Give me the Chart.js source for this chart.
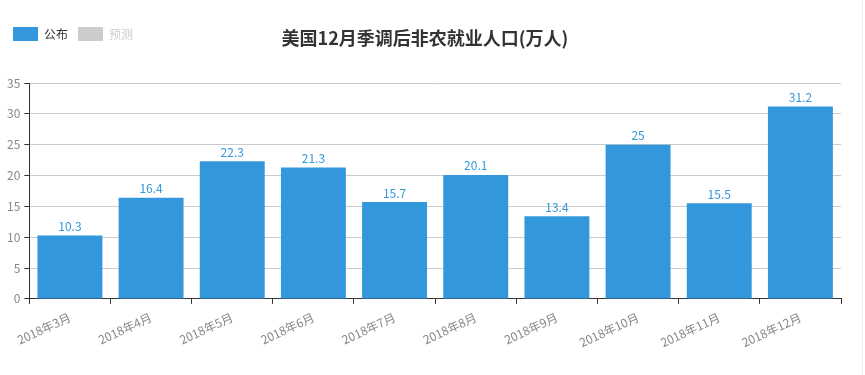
<!DOCTYPE html>
<html>
<head>
<meta charset="utf-8">
<script src="https://cdn.jsdelivr.net/npm/chart.js@4.4.0/dist/chart.umd.min.js"></script>
<style>
  html, body { margin: 0; padding: 0; background: #fff; }
  #wrap { position: relative; width: 865px; height: 375px; }
  #title {
    position: absolute; left: 0; top: 24px; width: 850px; text-align: center;
    font-family: "Noto Sans CJK SC", sans-serif; font-weight: bold; font-size: 18px; color: #333;
  }
  #edge { position: absolute; left: 862px; top: 0; width: 1px; height: 375px; background: #f0f0f0; }
</style>
</head>
<body>
<div id="wrap">
  <canvas id="myChart" width="865" height="375"></canvas>
  <div id="title">美国12月季调后非农就业人口(万人)</div>
  <div id="edge"></div>
</div>
<script>
const categories = ['2018年3月','2018年4月','2018年5月','2018年6月','2018年7月','2018年8月','2018年9月','2018年10月','2018年11月','2018年12月'];
const published = [10.3, 16.4, 22.3, 21.3, 15.7, 20.1, 13.4, 25, 15.5, 31.2];
const forecast = [];
const seriesNames = ['公布', '预测'];
const yTicks = [0, 5, 10, 15, 20, 25, 30, 35];

const font = "'Noto Sans CJK SC', sans-serif";
const blue = '#3398DB';
const gray = '#ccc';

// value labels above the bars
const barLabels = {
    id: 'barLabels',
    afterDatasetsDraw(chart) {
        const ctx = chart.ctx;
        const meta = chart.getDatasetMeta(0);
        ctx.save();
        ctx.font = '12px ' + font;
        ctx.fillStyle = blue;
        ctx.textAlign = 'center';
        ctx.textBaseline = 'bottom';
        meta.data.forEach((bar, i) => {
            ctx.fillText(String(published[i]), bar.x, bar.y - 3);
        });
        ctx.restore();
    }
};

// extra room under the legend
const legendGap = {
    id: 'legendGap',
    beforeInit(chart) {
        const fit = chart.legend.fit;
        chart.legend.fit = function () {
            fit.call(this);
            this.height += 32;
        };
    }
};

const ctx = document.getElementById('myChart').getContext('2d');
const myChart = new Chart(ctx, {
    type: 'bar',
    data: {
        labels: categories,
        datasets: [
            { label: seriesNames[0], data: published, backgroundColor: blue, borderWidth: 0 },
            { label: seriesNames[1], data: forecast, backgroundColor: gray, borderWidth: 0 }
        ]
    },
    options: {
        responsive: false,
        animation: false,
        layout: { padding: { left: 3, right: 24, top: 17, bottom: 19 } },
        datasets: { bar: { categoryPercentage: 1, barPercentage: 0.8, grouped: false } },
        plugins: {
            title: { display: false },
            tooltip: { enabled: false },
            legend: {
                position: 'top',
                align: 'start',
                labels: {
                    boxWidth: 25,
                    boxHeight: 14,
                    useBorderRadius: true,
                    borderRadius: 3,
                    padding: 10,
                    font: { family: font, size: 12 },
                    generateLabels(chart) {
                        return chart.data.datasets.map((ds, i) => ({
                            text: ds.label,
                            fillStyle: ds.backgroundColor,
                            strokeStyle: ds.backgroundColor,
                            lineWidth: 0,
                            fontColor: i === 0 ? '#333' : '#ccc',
                            hidden: false,
                            datasetIndex: i
                        }));
                    }
                }
            }
        },
        scales: {
            x: {
                grid: { offset: true, drawOnChartArea: false, drawTicks: true, tickLength: 5, tickColor: '#333' },
                border: { color: '#333', width: 1 },
                ticks: {
                    minRotation: 25, maxRotation: 25, autoSkip: false,
                    color: '#888', padding: 6,
                    font: { family: font, size: 12 }
                }
            },
            y: {
                min: 0, max: 35,
                afterBuildTicks(axis) { axis.ticks = yTicks.map(v => ({ value: v })); },
                grid: { color: '#ccc', tickColor: '#333', tickLength: 5 },
                border: { color: '#333', width: 1 },
                ticks: { color: '#888', padding: 4, font: { family: font, size: 12 } }
            }
        }
    },
    plugins: [barLabels, legendGap]
});
</script>
</body>
</html>
